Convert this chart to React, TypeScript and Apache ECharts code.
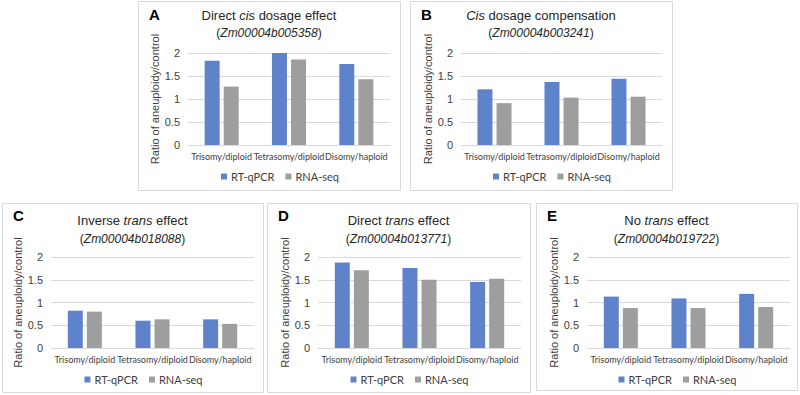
import React, { useEffect, useRef } from "react";
import * as echarts from "echarts";

const categories = ["Trisomy/diploid", "Tetrasomy/diploid", "Disomy/haploid"];
const seriesNames = ["RT-qPCR", "RNA-seq"];
const yMin = 0;
const yMax = 2;
const yInterval = 0.5;

const rtA = [1.83, 2.0, 1.76];
const seqA = [1.27, 1.86, 1.43];
const rtB = [1.21, 1.37, 1.44];
const seqB = [0.91, 1.03, 1.05];
const rtC = [0.82, 0.6, 0.63];
const seqC = [0.8, 0.63, 0.53];
const rtD = [1.88, 1.76, 1.45];
const seqD = [1.71, 1.5, 1.52];
const rtE = [1.13, 1.09, 1.19];
const seqE = [0.88, 0.88, 0.9];

const letters = ["A", "B", "C", "D", "E"];
const titleParts = [
  ["Direct ", "cis", " dosage effect"],
  ["", "Cis", " dosage compensation"],
  ["Inverse ", "trans", " effect"],
  ["Direct ", "trans", " effect"],
  ["No ", "trans", " effect"],
];
const geneIds = [
  "Zm00004b005358",
  "Zm00004b003241",
  "Zm00004b018088",
  "Zm00004b013771",
  "Zm00004b019722",
];
const yTitle = "Ratio of aneuploidy/control";

const rtAll = [rtA, rtB, rtC, rtD, rtE];
const seqAll = [seqA, seqB, seqC, seqD, seqE];

// layout (pixels)
const boxes = [
  { x: 138, y: 1, w: 262, h: 189 },
  { x: 410, y: 1, w: 262, h: 189 },
  { x: 2, y: 203, w: 261, h: 189 },
  { x: 267, y: 203, w: 263, h: 189 },
  { x: 536, y: 203, w: 261, h: 187 },
];
const grids = [
  { left: 188, top: 53, width: 202, height: 92 },
  { left: 461, top: 53, width: 201, height: 92 },
  { left: 51, top: 257, width: 203, height: 91 },
  { left: 318, top: 257, width: 203, height: 91 },
  { left: 587, top: 257, width: 203, height: 91 },
];

const BLUE = "#5F83CA";
const GRAY = "#9E9E9E";
const LINE = "#D9D9D9";
const SANS = "'Liberation Sans', Arial, sans-serif";
const CAL = "Lato, 'Liberation Sans', sans-serif";

export default function App() {
  const ref = useRef<HTMLDivElement>(null);
  useEffect(() => {
    if (!ref.current) return;
    const chart = echarts.init(ref.current, null, { renderer: "svg" });

    const graphic: any[] = [];
    const legend: any[] = [];
    const xAxis: any[] = [];
    const yAxis: any[] = [];
    const series: any[] = [];

    boxes.forEach((b, i) => {
      const cx = b.x + b.w / 2;
      const topRow = i < 2;
      graphic.push({
        type: "rect",
        shape: { x: b.x + 0.5, y: b.y + 0.5, width: b.w, height: b.h },
        style: { fill: "none", stroke: LINE, lineWidth: 1 },
        silent: true,
      });
      graphic.push({
        type: "text",
        x: b.x + 11,
        y: b.y + (topRow ? 13 : 12),
        style: {
          text: letters[i],
          font: `bold 15px ${SANS}`,
          fill: "#000",
          textVerticalAlign: "middle",
        },
      });
      const [p1, pi, p2] = titleParts[i];
      graphic.push({
        type: "text",
        x: cx,
        y: topRow ? 15 : 220,
        style: {
          text: `{n|${p1}}{i|${pi}}{n|${p2}}`,
          textAlign: "center",
          textVerticalAlign: "middle",
          rich: {
            n: { fontSize: 13, fontFamily: SANS, fill: "#262626", color: "#262626" },
            i: { fontSize: 13, fontFamily: SANS, fontStyle: "italic", fill: "#262626", color: "#262626" },
          },
        },
      });
      graphic.push({
        type: "text",
        x: cx,
        y: topRow ? 33 : 239,
        style: {
          text: `{n|(}{i|${geneIds[i]}}{n|)}`,
          textAlign: "center",
          textVerticalAlign: "middle",
          rich: {
            n: { fontSize: 12, fontFamily: SANS, fill: "#262626", color: "#262626" },
            i: { fontSize: 12, fontFamily: SANS, fontStyle: "italic", fill: "#262626", color: "#262626" },
          },
        },
      });
      legend.push({
        data: seriesNames,
        left: cx - 53,
        top: topRow ? 166 : 369,
        icon: "rect",
        itemWidth: 6,
        itemHeight: 6,
        itemGap: 11,
        selectedMode: false,
        textStyle: { fontSize: 11, fontFamily: CAL, color: "#404040", padding: [0, 0, 0, -1] },
      });
      xAxis.push({
        type: "category",
        gridIndex: i,
        data: categories,
        axisLine: { show: true, lineStyle: { color: LINE } },
        axisTick: { show: false },
        axisLabel: { interval: 0, fontSize: 9, fontFamily: CAL, color: "#404040", margin: 7 },
      });
      yAxis.push({
        type: "value",
        gridIndex: i,
        min: yMin,
        max: yMax,
        interval: yInterval,
        axisLine: { show: false },
        axisTick: { show: false },
        splitLine: { lineStyle: { color: LINE } },
        axisLabel: { fontSize: 11, fontFamily: SANS, color: "#404040", margin: 8 },
        name: yTitle,
        nameLocation: "middle",
        nameGap: 25,
        nameTextStyle: { fontSize: 11, fontFamily: SANS, color: "#404040" },
      });
      series.push({
        type: "bar",
        name: seriesNames[0],
        xAxisIndex: i,
        yAxisIndex: i,
        data: rtAll[i],
        barWidth: 15,
        barGap: "27%",
        itemStyle: { color: BLUE },
      });
      series.push({
        type: "bar",
        name: seriesNames[1],
        xAxisIndex: i,
        yAxisIndex: i,
        data: seqAll[i],
        barWidth: 15,
        barGap: "27%",
        itemStyle: { color: GRAY },
      });
    });

    chart.setOption({
      animation: false,
      backgroundColor: "#ffffff",
      color: [BLUE, GRAY],
      grid: grids.map((g) => ({ ...g, containLabel: false })),
      legend,
      xAxis,
      yAxis,
      series,
      graphic,
    });
    return () => chart.dispose();
  }, []);
  return (
    <div
      ref={ref}
      style={{ position: "fixed", left: 0, top: 0, width: 800, height: 395, background: "#fff" }}
    />
  );
}
